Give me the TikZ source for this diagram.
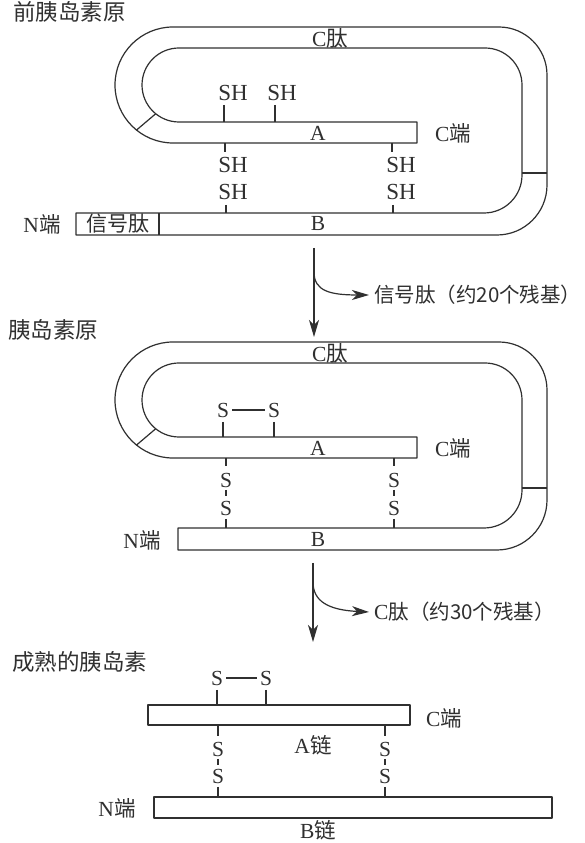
\documentclass[tikz,border=0pt]{standalone}
\usepackage{fontspec}
\setmainfont{Liberation Serif}
\newfontfamily\cjk{Noto Sans CJK SC}
\usetikzlibrary{arrows.meta,calc}
\definecolor{ink}{HTML}{303030}
\tikzset{
  chainline/.style={draw=ink, line width=1.2pt, line join=round},
  tickline/.style={draw=ink, line width=1.2pt},
  lat/.style={inner sep=0pt, text=ink, font=\fontsize{21.5}{21.5}\selectfont},
  shlbl/.style={inner sep=0pt, text=ink, font=\fontsize{23}{23}\selectfont},
  zh/.style={inner sep=0pt, text=ink, font=\cjk\fontsize{20.5}{20.5}\selectfont},
  ttl/.style={inner sep=0pt, text=ink, anchor=west, font=\cjk\fontsize{22.5}{22.5}\selectfont},
  arr/.style={draw=ink, line width=1.2pt, -{Stealth[length=17pt,width=10pt,inset=5pt]}},
}
\newcommand\proloop[1]{%
  \draw[chainline] (417,700) -- (173,700) arc[start angle=270,end angle=90,radius=58]
    -- (499,816) arc[start angle=90,end angle=0,radius=48]
    -- (547,658) arc[start angle=0,end angle=-90,radius=50]
    -- (#1,608) -- (#1,630) -- (484,630) arc[start angle=270,end angle=360,radius=38]
    -- (522,758) arc[start angle=0,end angle=90,radius=37]
    -- (179,795) arc[start angle=90,end angle=270,radius=37]
    -- (417,721) -- cycle;
  \draw[chainline] ($(173,758)+(231:58)$) -- ($(179,758)+(231:37)$);
  \draw[chainline] (522,670) -- (547,670);
}
\begin{document}
\begin{tikzpicture}[x=1pt,y=1pt]
\useasboundingbox (0,0) rectangle (585,843);
\fill[white] (0,0) rectangle (585,843);

% ---------- preproinsulin ----------
\node[ttl] (t1) at (13,831) {前胰岛素原};
\proloop{76}
\draw[chainline] (159,608) -- (159,630);
\node[zh, font=\cjk\fontsize{21}{21}\selectfont] (sig) at (117.5,619) {信号肽};
\node[lat] (cp1) at (330,805) {C{\cjk 肽}};
\node[lat] (a1) at (318,710) {A};
\node[lat] (b1) at (318,619) {B};
\node[lat] (ce1) at (453,710) {C{\cjk 端}};
\node[lat] (ne1) at (42,619) {N{\cjk 端}};
\node[shlbl] (sha) at (233,750) {SH};
\node[shlbl] (shb) at (282,750) {SH};
\draw[tickline] (224,738) -- (224,721);
\draw[tickline] (275,738) -- (275,721);
\node[shlbl] (shc) at (233,678) {SH};
\node[shlbl] (shd) at (401,678) {SH};
\node[shlbl] (she) at (233,651) {SH};
\node[shlbl] (shf) at (401,651) {SH};
\draw[tickline] (225,700) -- (225,691);
\draw[tickline] (392,700) -- (392,691);
\draw[tickline] (226,638) -- (226,630);
\draw[tickline] (393,638) -- (393,630);

% ---------- arrow 1 ----------
\coordinate (v1a) at (314,595);
\coordinate (v1b) at (314,506);
\coordinate (br1) at (314,571);
\draw[arr] (v1a) -- (v1b);
\node[zh, anchor=west] (lab1) at (374,548) {信号肽（约20个残基）};
\draw[arr] (br1) .. controls (314,552) and (330,548) .. ([xshift=-5pt]lab1.west);

% ---------- proinsulin ----------
\node[ttl] (t2) at (8,513) {胰岛素原};
\begin{scope}[yshift=-315pt]
\proloop{178}
\node[lat] (cp2) at (330,805) {C{\cjk 肽}};
\node[lat] (a2) at (318,710) {A};
\node[lat] (b2) at (318,619) {B};
\node[lat] (ce2) at (453,710) {C{\cjk 端}};
\node[lat] (ne2) at (142,618) {N{\cjk 端}};
\node[lat] (s2a) at (223,748) {S};
\node[lat] (s2b) at (274,748) {S};
\draw[tickline] ([xshift=3pt]s2a.east) -- ([xshift=-3pt]s2b.west);
\draw[tickline] (223,736) -- (223,721);
\draw[tickline] (274,736) -- (274,721);
\node[lat] (s2c) at (226,678) {S};
\node[lat] (s2d) at (226,650) {S};
\node[lat] (s2e) at (394,678) {S};
\node[lat] (s2f) at (394,650) {S};
\foreach \xx in {226,394}{
  \draw[tickline] (\xx,700) -- (\xx,692);
  \draw[tickline] (\xx,668) -- (\xx,662);
  \draw[tickline] (\xx,639) -- (\xx,630);
}
\end{scope}

% ---------- arrow 2 ----------
\coordinate (v2a) at (313,280);
\coordinate (v2b) at (313,201);
\coordinate (br2) at (313,261);
\draw[arr] (v2a) -- (v2b);
\node[lat, anchor=west] (lab2) at (374,231) {C{\cjk\fontsize{20.5}{20.5}\selectfont 肽（约30个残基）}};
\draw[arr] (br2) .. controls (313,242) and (328,233) .. ([xshift=-5pt]lab2.west);

% ---------- mature insulin ----------
\node[ttl] (t3) at (12,181) {成熟的胰岛素};
\draw[chainline] (148,118) rectangle (410,138);
\draw[chainline] (154,25) rectangle (552,46);
\node[lat] (s3a) at (217,165) {S};
\node[lat] (s3b) at (266,165) {S};
\draw[tickline] ([xshift=3pt]s3a.east) -- ([xshift=-3pt]s3b.west);
\draw[tickline] (217,153) -- (217,138);
\draw[tickline] (266,153) -- (266,138);
\node[lat] (s3c) at (218,94) {S};
\node[lat] (s3d) at (218,67) {S};
\node[lat] (s3e) at (385,94) {S};
\node[lat] (s3f) at (385,67) {S};
\foreach \xx in {218,385}{
  \draw[tickline] (\xx,118) -- (\xx,107);
  \draw[tickline] (\xx,84) -- (\xx,78);
  \draw[tickline] (\xx,56) -- (\xx,46);
}
\node[lat] (ce3) at (444,125) {C{\cjk 端}};
\node[lat] (ach) at (313,98) {A{\cjk 链}};
\node[lat] (ne3) at (117,35) {N{\cjk 端}};
\node[lat] (bch) at (318,12.5) {B{\cjk 链}};
\end{tikzpicture}
\end{document}
